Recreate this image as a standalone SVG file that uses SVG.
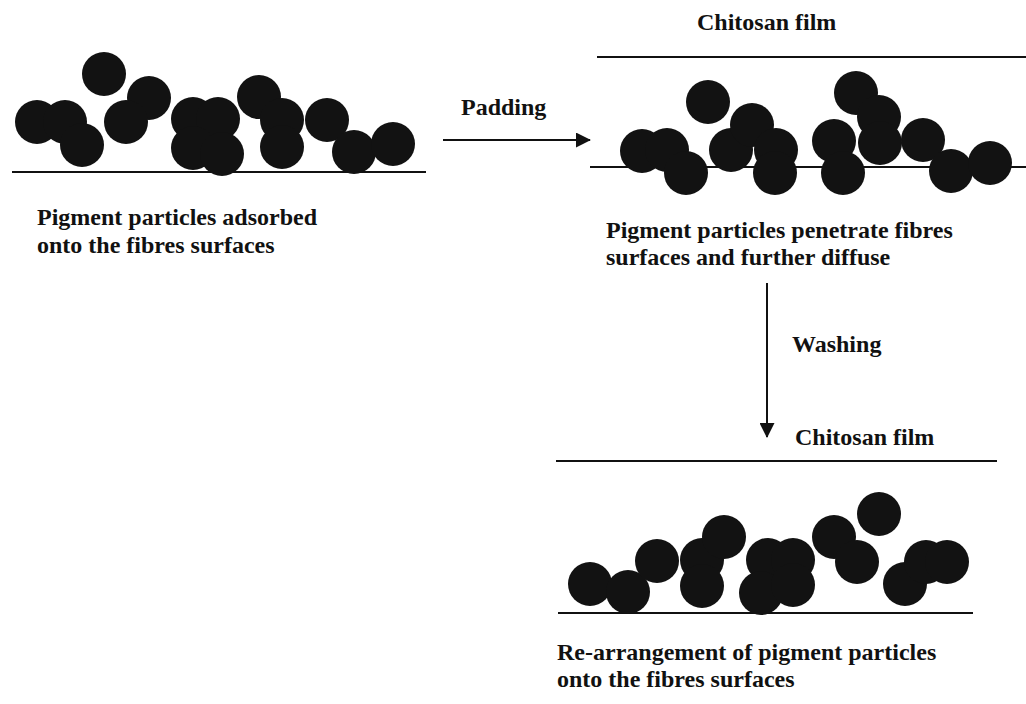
<svg xmlns="http://www.w3.org/2000/svg" width="1026" height="704" viewBox="0 0 1026 704">
  <style>
    .lbl { font-family: "Liberation Serif", "Times New Roman", serif; font-weight: bold; font-size: 24px; fill: #111; }
    .surf { stroke: #111; stroke-width: 2; fill: none; }
    .film { stroke: #111; stroke-width: 2.2; fill: none; }
    .p { fill: #121212; }
    .conn { stroke: #111; stroke-width: 2; fill: none; }
  </style>
  <defs>
    <marker id="head" viewBox="0 0 16 16" refX="15" refY="8" markerWidth="15" markerHeight="15" markerUnits="userSpaceOnUse" orient="auto">
      <path d="M0,0 L16,8 L0,16 Z" fill="#111"/>
    </marker>
  </defs>
  <rect width="1026" height="704" fill="#fff"/>

  <!-- Stage 1: particles adsorbed on fibre surface -->
  <g id="stage-adsorbed">
    <line class="surf" x1="12" y1="172" x2="426" y2="172"/>
    <circle class="p" cx="37" cy="122" r="22"/>
    <circle class="p" cx="65" cy="122" r="22"/>
    <circle class="p" cx="82" cy="145" r="22"/>
    <circle class="p" cx="104" cy="74" r="22"/>
    <circle class="p" cx="149" cy="98" r="22"/>
    <circle class="p" cx="126" cy="122" r="22"/>
    <circle class="p" cx="193" cy="119" r="22"/>
    <circle class="p" cx="218" cy="119" r="22"/>
    <circle class="p" cx="193" cy="148" r="22"/>
    <circle class="p" cx="222" cy="154" r="22"/>
    <circle class="p" cx="259" cy="97" r="22"/>
    <circle class="p" cx="282" cy="120" r="22"/>
    <circle class="p" cx="282" cy="147" r="22"/>
    <circle class="p" cx="327" cy="120" r="22"/>
    <circle class="p" cx="354" cy="152" r="22"/>
    <circle class="p" cx="393" cy="144" r="22"/>
    <text class="lbl" x="37" y="225">Pigment particles adsorbed</text>
    <text class="lbl" x="37" y="253">onto the fibres surfaces</text>
  </g>

  <!-- Stage 2: particles penetrate under the chitosan film -->
  <g id="stage-penetrate">
    <text class="lbl" x="697" y="30">Chitosan film</text>
    <line class="film" x1="597" y1="57" x2="1026" y2="57"/>
    <line class="surf" x1="590" y1="167" x2="1026" y2="167"/>
    <circle class="p" cx="642" cy="151" r="22"/>
    <circle class="p" cx="667" cy="150" r="22"/>
    <circle class="p" cx="686" cy="173" r="22"/>
    <circle class="p" cx="708" cy="102" r="22"/>
    <circle class="p" cx="731" cy="150" r="22"/>
    <circle class="p" cx="752" cy="125" r="22"/>
    <circle class="p" cx="776" cy="150" r="22"/>
    <circle class="p" cx="775" cy="173" r="22"/>
    <circle class="p" cx="834" cy="141" r="22"/>
    <circle class="p" cx="843" cy="173" r="22"/>
    <circle class="p" cx="856" cy="93" r="22"/>
    <circle class="p" cx="879" cy="117" r="22"/>
    <circle class="p" cx="880" cy="143" r="22"/>
    <circle class="p" cx="923" cy="140" r="22"/>
    <circle class="p" cx="951" cy="171" r="22"/>
    <circle class="p" cx="990" cy="163" r="22"/>
    <text class="lbl" x="606" y="238">Pigment particles penetrate fibres</text>
    <text class="lbl" x="606" y="265">surfaces and further diffuse</text>
  </g>

  <!-- Stage 3: re-arranged particles after washing -->
  <g id="stage-rearranged">
    <text class="lbl" x="795" y="445">Chitosan film</text>
    <line class="film" x1="556" y1="461" x2="997" y2="461"/>
    <line class="surf" x1="558" y1="613" x2="973" y2="613"/>
    <circle class="p" cx="590" cy="584" r="22"/>
    <circle class="p" cx="628" cy="592" r="22"/>
    <circle class="p" cx="657" cy="561" r="22"/>
    <circle class="p" cx="702" cy="560" r="22"/>
    <circle class="p" cx="702" cy="586" r="22"/>
    <circle class="p" cx="724" cy="537" r="22"/>
    <circle class="p" cx="768" cy="560" r="22"/>
    <circle class="p" cx="761" cy="593" r="22"/>
    <circle class="p" cx="793" cy="560" r="22"/>
    <circle class="p" cx="793" cy="585" r="22"/>
    <circle class="p" cx="834" cy="537" r="22"/>
    <circle class="p" cx="857" cy="562" r="22"/>
    <circle class="p" cx="879" cy="514" r="22"/>
    <circle class="p" cx="905" cy="584" r="22"/>
    <circle class="p" cx="926" cy="562" r="22"/>
    <circle class="p" cx="947" cy="562" r="22"/>
    <text class="lbl" x="557" y="660">Re-arrangement of pigment particles</text>
    <text class="lbl" x="557" y="687">onto the fibres surfaces</text>
  </g>

  <!-- Process steps -->
  <g id="connectors">
    <line class="conn" x1="443" y1="140" x2="590" y2="140" marker-end="url(#head)"/>
    <text class="lbl" x="461" y="115">Padding</text>
    <line class="conn" x1="767" y1="283" x2="767" y2="437" marker-end="url(#head)"/>
    <text class="lbl" x="792" y="352">Washing</text>
  </g>
</svg>
